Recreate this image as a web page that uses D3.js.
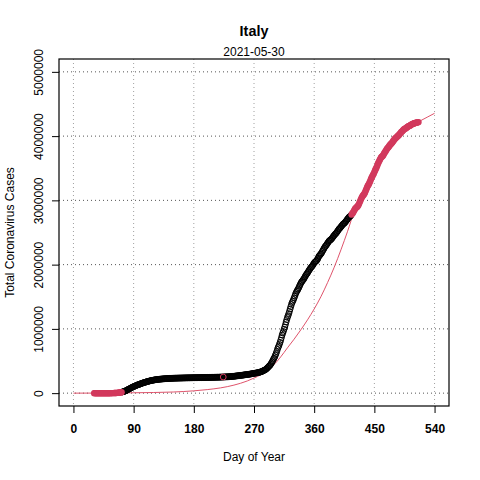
<!DOCTYPE html>
<html lang="en">
<head>
  <meta charset="UTF-8">
  <title>Italy</title>
  <script src="https://d3js.org/d3.v7.min.js"></script>
  <style>
    body { margin: 0; background: #fff; }
    svg { font-family: "Liberation Sans", Arial, sans-serif; }
  </style>
</head>
<body>
  <svg id="chart" width="480" height="480"></svg>
  <script>
    // cumulative cases (thousands), one value per day starting at startDay
    const startDay = 31;
    const cases = [
      0,0,0,0,0,0,0,0,0,0,
      0,0,0,0,0,0,0,0,0,0,
      0,0.02,0.08,0.15,0.23,0.32,0.4,0.65,0.89,1.13,
      1.69,2.04,2.5,3.09,3.86,4.64,5.88,7.38,9.17,10.15,
      12.46,15.11,17.66,21.16,24.75,27.98,31.51,35.71,41.04,47.02,
      53.58,59.14,63.93,69.18,74.39,80.54,86.5,92.47,97.69,101.74,
      105.79,110.57,115.24,119.83,124.63,128.95,132.55,135.59,139.42,143.63,
      147.58,152.27,156.36,159.52,162.49,165.16,168.94,172.43,175.93,178.97,
      181.23,183.96,187.33,189.97,192.99,195.35,197.68,199.41,201.51,203.59,
      205.46,207.43,209.33,210.72,211.94,213.01,214.46,215.86,217.19,218.27,
      219.07,219.81,221.22,222.1,223.1,223.89,224.76,225.44,225.89,226.7,
      227.36,228.01,228.66,229.33,229.86,230.16,230.56,231.14,231.73,232.25,
      232.66,233.02,233.2,233.51,233.84,234.01,234.53,234.8,234.99,235.28,
      235.56,235.76,236.14,236.31,236.65,236.99,237.29,237.5,237.83,238.01,
      238.16,238.28,238.5,238.72,238.83,239.14,239.41,239.71,239.96,240.14,
      240.31,240.58,240.76,240.96,241.18,241.42,241.61,241.82,241.96,242.15,
      242.36,242.64,242.83,243.06,243.23,243.34,243.51,243.74,243.97,244.22,
      244.43,244.62,244.75,245.03,245.34,245.59,245.86,246.12,246.29,246.49,
      246.78,247.16,247.54,247.83,248.07,248.23,248.42,248.8,249.2,249.76,
      250.1,250.57,250.83,251.24,251.71,252.24,252.81,253.44,253.92,254.24,
      254.64,255.28,256.12,257.07,258.14,259.35,260.3,261.17,261.95,262.54,
      263.95,265.41,266.85,268.22,269.21,270.19,271.52,272.91,274.64,276.34,
      277.63,278.78,280.15,281.58,283.18,284.8,286.3,287.75,288.76,289.99,
      291.44,293.03,294.93,296.57,298.16,300,302.54,304.32,306.24,308.1,
      309.87,311.36,313.01,314.86,317.41,319.91,322.75,325.33,327.59,330.26,
      333.94,338.4,343.77,349.49,354.95,359.57,365.47,372.8,381.6,391.61,
      402.54,414.24,423.58,434.45,449.65,465.73,484.87,504.51,525.78,542.79,
      564.78,589.77,616.6,647.67,679.43,709.34,731.59,759.83,790.38,824.88,
      862.68,902.49,935.1,960.37,995.46,1028.42,1066.4,1107.3,1144.55,1178.53,
      1205.88,1238.07,1272.35,1308.53,1345.77,1380.53,1408.87,1431.8,1455.02,1480.87,
      1509.88,1538.22,1564.53,1585.18,1601.55,1620.9,1641.61,1664.83,1688.94,1709.99,
      1728.88,1742.56,1757.39,1770.15,1787.15,1805.87,1825.78,1843.71,1855.74,1870.58,
      1888.14,1906.38,1921.78,1938.08,1953.19,1964.05,1977.37,1991.28,2009.32,2028.35,
      2038.76,2047.7,2056.28,2067.49,2083.69,2107.17,2129.38,2141.2,2155.45,2166.24,
      2181.62,2201.95,2220.36,2237.89,2257.87,2276.49,2288,2302,2317,2333,
      2349,2364,2376,2382,2390,2401,2415,2430,2444,2458,
      2470,2480,2492,2506,2521,2537,2553,2563,2575,2588,
      2602,2615,2628,2637,2644,2655,2668,2683,2697,2711,
      2725,2738,2747,2754,2767,2780,2796,2809,2828,2848,
      2867,2880,2888,2898,2908,2926,2946,2970,2995,3020,
      3043,3062,3077,3088,3103,3123,3149,3175,3202,3223,
      3239,3258,3281,3307,3332,3356,3377,3397,3416,3440,
      3465,3489,3508,3533,3561,3585,3607,3629,3650,3669,
      3678,3687,3700,3717,3737,3754,3769,3787,3803,3817,
      3827,3843,3857,3871,3883,3891,3904,3920,3935,3949,
      3962,3971,3981,3991,4001,4009,4022,4035,4047,4059,
      4070,4080,4092,4103,4111,4116,4124,4131,4138,4147,
      4153,4159,4163,4169,4176,4183,4188,4193,4197,4201,
      4205,4208,4210,4212,4214,4218
    ];

    // days used for the fit (black); the rest are red
    const fitFrom = 73;
    const fitTo = 415;

    // single highlighted point
    const markDay = 224;
    const markValue = 251;

    // fitted curve (thousands)
    const curveDays = [0, 30, 60, 90, 120, 150, 180, 200, 220, 240, 260, 270, 280, 290, 300, 310, 320, 330, 340, 350,
      360, 370, 380, 390, 400, 410, 420, 430, 440, 450, 460, 470, 480, 490, 500, 510, 520, 530, 540];
    const curveValues = [0, 1, 3, 6, 10, 18, 36, 55, 82, 125, 190, 235, 285, 355, 445, 565, 705, 840, 985, 1140,
      1310, 1500, 1720, 1960, 2230, 2520, 2830, 3040, 3250, 3460, 3650, 3810, 3940, 4045, 4125, 4190, 4245, 4300, 4355];

    const xTicks = [0, 90, 180, 270, 360, 450, 540];
    const yTicks = [0, 1000000, 2000000, 3000000, 4000000, 5000000];

    const red = "#d2395d";
    const box = { left: 59, right: 449, top: 59, bottom: 406 };

    const svg = d3.select("#chart");

    const x = d3.scaleLinear().domain([-21.6, 561.6]).range([box.left, box.right]);
    const y = d3.scaleLinear().domain([-200000, 5200000]).range([box.bottom, box.top]);

    const points = cases.map((v, i) => ({ day: startDay + i, value: v * 1000 }));

    // grid
    svg.append("g")
      .selectAll("line")
      .data(xTicks)
      .join("line")
      .attr("x1", d => x(d)).attr("x2", d => x(d))
      .attr("y1", box.top).attr("y2", box.bottom)
      .attr("stroke", "#a0a0a0")
      .attr("stroke-dasharray", "1,3");

    svg.append("g")
      .selectAll("line")
      .data(yTicks)
      .join("line")
      .attr("x1", box.left).attr("x2", box.right)
      .attr("y1", d => y(d)).attr("y2", d => y(d))
      .attr("stroke", "#555")
      .attr("stroke-dasharray", "1,3");

    // fitted curve
    const line = d3.line()
      .x(d => x(d[0]))
      .y(d => y(d[1] * 1000))
      .curve(d3.curveMonotoneX);

    svg.append("path")
      .datum(curveDays.map((d, i) => [d, curveValues[i]]))
      .attr("d", line)
      .attr("fill", "none")
      .attr("stroke", "#df536b")
      .attr("stroke-width", 1);

    // points
    svg.append("g")
      .selectAll("circle")
      .data(points.filter(d => d.day >= fitFrom && d.day <= fitTo))
      .join("circle")
      .attr("cx", d => x(d.day))
      .attr("cy", d => y(d.value))
      .attr("r", 2.9)
      .attr("fill", "none")
      .attr("stroke", "#000")
      .attr("stroke-width", 1);

    svg.append("g")
      .selectAll("circle")
      .data(points.filter(d => d.day < fitFrom || d.day > fitTo))
      .join("circle")
      .attr("cx", d => x(d.day))
      .attr("cy", d => y(d.value))
      .attr("r", 3.2)
      .attr("fill", red);

    svg.append("circle")
      .attr("cx", x(markDay))
      .attr("cy", y(markValue * 1000))
      .attr("r", 2.9)
      .attr("fill", "none")
      .attr("stroke", red)
      .attr("stroke-width", 1);

    // axes
    const xAxis = svg.append("g")
      .attr("transform", `translate(0,${box.bottom})`)
      .call(d3.axisBottom(x).tickValues(xTicks).tickSize(7).tickPadding(11).tickFormat(d3.format("d")));
    xAxis.select(".domain").remove();
    xAxis.selectAll("text")
      .attr("font-size", 12)
      .attr("font-weight", "bold")
      .attr("fill", "#000")
      .style("font-family", "'Liberation Sans', Arial, sans-serif");

    const yAxis = svg.append("g")
      .attr("transform", `translate(${box.left},0)`)
      .call(d3.axisLeft(y).tickValues(yTicks).tickSize(7).tickFormat(d3.format("d")));
    yAxis.select(".domain").remove();
    yAxis.selectAll("text")
      .attr("transform", "rotate(-90)")
      .attr("x", 0)
      .attr("y", -16)
      .attr("dy", 0)
      .attr("text-anchor", "middle")
      .attr("font-size", 12)
      .attr("fill", "#000")
      .style("font-family", "'Liberation Sans', Arial, sans-serif");

    // plot box
    svg.append("rect")
      .attr("x", box.left).attr("y", box.top)
      .attr("width", box.right - box.left)
      .attr("height", box.bottom - box.top)
      .attr("fill", "none")
      .attr("stroke", "#000")
      .attr("stroke-width", 1.2);

    // titles
    const cx = (box.left + box.right) / 2;
    svg.append("text")
      .attr("x", cx).attr("y", 36)
      .attr("text-anchor", "middle")
      .attr("font-size", 14.4)
      .attr("font-weight", "bold")
      .text("Italy");

    svg.append("text")
      .attr("x", cx).attr("y", 56)
      .attr("text-anchor", "middle")
      .attr("font-size", 12)
      .text("2021-05-30");

    svg.append("text")
      .attr("x", cx).attr("y", 461)
      .attr("text-anchor", "middle")
      .attr("font-size", 12)
      .text("Day of Year");

    svg.append("text")
      .attr("transform", `translate(14,${(box.top + box.bottom) / 2}) rotate(-90)`)
      .attr("text-anchor", "middle")
      .attr("font-size", 12)
      .text("Total Coronavirus Cases");
  </script>
</body>
</html>
